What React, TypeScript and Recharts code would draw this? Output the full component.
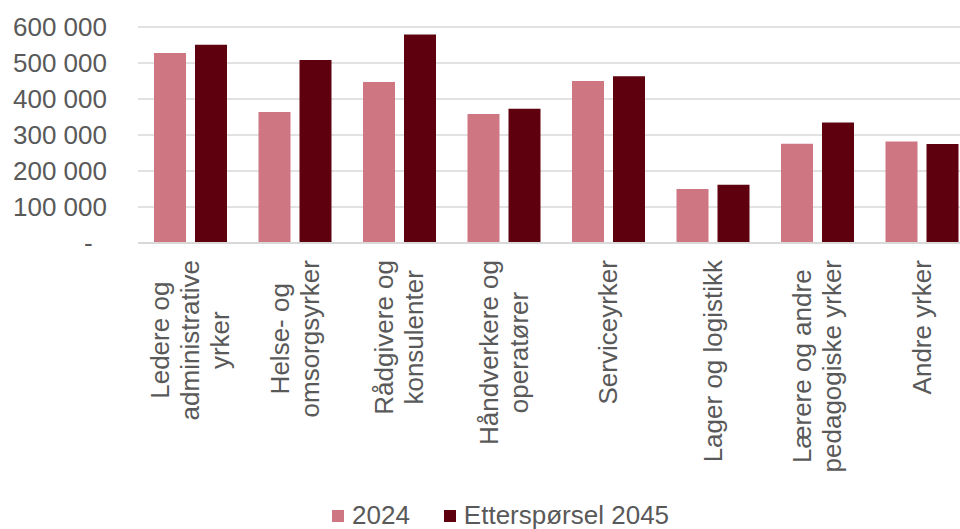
import React from "react";
import { BarChart, Bar, XAxis, YAxis, CartesianGrid, Legend } from "recharts";

const categories = [
  "Ledere og\nadministrative\nyrker",
  "Helse- og\nomsorgsyrker",
  "Rådgivere og\nkonsulenter",
  "Håndverkere og\noperatører",
  "Serviceyrker",
  "Lager og logistikk",
  "Lærere og andre\npedagogiske yrker",
  "Andre yrker",
];
const values2024 = [528000, 364000, 447000, 358000, 450000, 150000, 276000, 282000];
const values2045 = [551000, 508000, 579000, 373000, 463000, 162000, 335000, 275000];
const yTicks = [0, 100000, 200000, 300000, 400000, 500000, 600000];
const seriesNames = ["2024", "Etterspørsel 2045"];

const data = categories.map((c, i) => ({ name: c, a: values2024[i], b: values2045[i] }));

const FONT = "'Liberation Sans', Arial, sans-serif";
const TEXT = "#595959";
const C1 = "#CF7683";
const C2 = "#5E000E";

let ctx: CanvasRenderingContext2D | null = null;
function measure(s: string): number {
  if (!ctx) {
    const c = document.createElement("canvas");
    ctx = c.getContext("2d");
  }
  if (!ctx) return s.length * 13;
  ctx.font = "26px 'Liberation Sans'";
  return ctx.measureText(s).width;
}

const fmtY = (v: number) =>
  v === 0 ? "-\u00A0\u00A0" : String(v).replace(/\B(?=(\d{3})+(?!\d))/g, "\u00A0");

const CategoryTick = (props: any) => {
  const { x, y, payload } = props;
  const lines = String(payload.value).split("\n");
  const maxW = Math.max(...lines.map(measure));
  const cy = y + maxW / 2;
  const lh = 30;
  const n = lines.length;
  return (
    <g>
      {lines.map((ln, i) => {
        const cx = x + (i - (n - 1) / 2) * lh;
        return (
          <text
            key={i}
            x={cx}
            y={cy}
            transform={`rotate(-90 ${cx} ${cy})`}
            textAnchor="middle"
            dominantBaseline="central"
            fill={TEXT}
            fontSize={26}
            fontFamily={FONT}
          >
            {ln}
          </text>
        );
      })}
    </g>
  );
};

const LegendContent = () => (
  <div
    style={{
      display: "flex",
      alignItems: "flex-start",
      fontFamily: FONT,
      fontSize: 26,
      lineHeight: "26px",
      height: 26,
      color: TEXT,
      whiteSpace: "nowrap",
    }}
  >
    {seriesNames.map((s, i) => (
      <div key={s} style={{ display: "flex", alignItems: "flex-start", marginRight: i === 0 ? 34 : 0 }}>
        <span
          style={{
            display: "inline-block",
            width: 12,
            height: 12,
            marginTop: 8,
            marginRight: 8,
            background: i === 0 ? C1 : C2,
          }}
        />
        <span>{s}</span>
      </div>
    ))}
  </div>
);

export default function App() {
  return (
    <div style={{ position: "absolute", left: 0, top: 0, width: 960, height: 529, overflow: "hidden", background: "#fff" }}>
      <BarChart
        width={974}
        height={529}
        data={data}
        margin={{ top: 27, right: 0, bottom: 0, left: 0 }}
        barGap={9}
        barSize={32}
      >
        <CartesianGrid vertical={false} stroke="#d9d9d9" strokeWidth={1.5} />
        <XAxis
          dataKey="name"
          interval={0}
          height={260}
          tickLine={false}
          tickSize={0}
          tickMargin={17}
          axisLine={{ stroke: "#d9d9d9", strokeWidth: 2 }}
          tick={<CategoryTick />}
        />
        <YAxis
          width={138}
          domain={[0, 600000]}
          ticks={yTicks}
          tickFormatter={fmtY}
          axisLine={false}
          tickLine={false}
          tickSize={0}
          tickMargin={31}
          tick={{ fill: TEXT, fontSize: 26, fontFamily: FONT }}
          interval={0}
        />
        <Legend
          verticalAlign="bottom"
          content={<LegendContent />}
          wrapperStyle={{ left: 332, top: 502, width: "auto", height: 26 }}
        />
        <Bar dataKey="a" name={seriesNames[0]} fill={C1} isAnimationActive={false} />
        <Bar dataKey="b" name={seriesNames[1]} fill={C2} isAnimationActive={false} />
      </BarChart>
    </div>
  );
}
